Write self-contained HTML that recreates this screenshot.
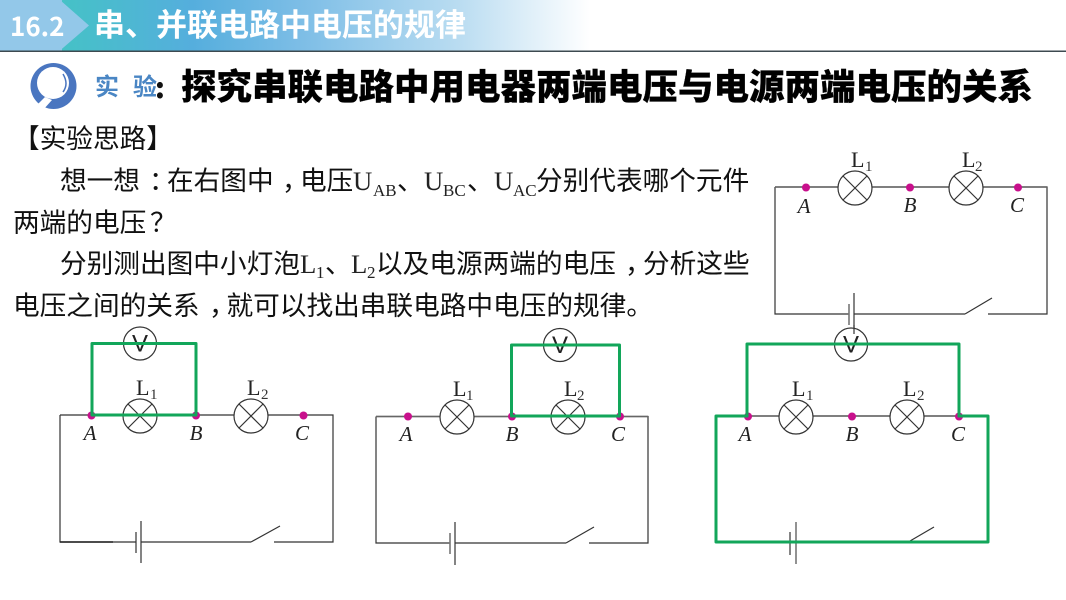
<!DOCTYPE html>
<html lang="zh"><head><meta charset="utf-8"><title>16.2 串、并联电路中电压的规律</title>
<style>
html,body{margin:0;padding:0;background:#fff;width:1066px;height:600px;overflow:hidden}
svg{display:block;filter:blur(.35px)}
.b{font-family:"Noto Sans CJK SC",sans-serif;font-size:26.67px;fill:#111}
.s{font-family:"Liberation Serif",serif;fill:#222}
.lab{font-family:"Liberation Serif",serif;font-style:italic;font-size:21px;fill:#222;text-anchor:middle}
.L{font-family:"Liberation Serif",serif;font-size:22px;fill:#222}
.Ls{font-family:"Liberation Serif",serif;font-size:15px;fill:#333}
.V{font-family:"Liberation Sans",sans-serif;font-size:24px;fill:#222;text-anchor:middle}
.w{stroke:#333;stroke-width:1.2;fill:none}
.g{stroke:#12a65a;stroke-width:3;fill:none;stroke-linejoin:round;stroke-linecap:round}
.c{stroke:#333;stroke-width:1.2;fill:#fff}
.d{fill:#c8108c}
</style></head><body>
<svg width="1066" height="600" viewBox="0 0 1066 600" xmlns="http://www.w3.org/2000/svg">
<defs>
<linearGradient id="h" x1="0" x2="1" y1="0" y2="0">
<stop offset="0" stop-color="#45c2c6"/><stop offset=".25" stop-color="#55aedd"/><stop offset=".45" stop-color="#7cbde6"/><stop offset=".75" stop-color="#b9dcf1"/><stop offset="1" stop-color="#ffffff"/>
</linearGradient>
<g id="x"><circle r="17" class="c"/><path d="M-12-12L12 12M-12 12L12-12" class="w"/></g>
<g id="v"><circle r="16.5" class="c"/><text y="8" class="V">V</text></g>
</defs>

<!-- header -->
<rect x="60" y="0" width="530" height="50.5" fill="url(#h)"/>
<rect x="0" y="0" width="62" height="50.5" fill="#8fc6e8"/>
<path d="M60 0L89 25.5L60 50.5H0V0Z" fill="#93c8e9"/>
<rect x="0" y="50.5" width="1066" height="1.5" fill="#3d4a50"/>
<text x="10" y="36" font-family="Noto Sans CJK SC,sans-serif" font-weight="700" font-size="26" fill="#fff">16.2</text>
<text x="94" y="36" font-family="Noto Sans CJK SC,sans-serif" font-weight="700" font-size="31" fill="#fff">串、并联电路中电压的规律</text>

<!-- heading -->
<circle cx="53.500" cy="86" r="23" fill="#4a76c0"/>
<circle cx="53" cy="83" r="16" fill="#fff"/>
<path d="M45 97L36 106L43 110L52 100Z" fill="#fff"/>
<path d="M63 74Q69 84 63 92" stroke="#4a76c0" stroke-width="1.5" fill="none"/>
<text x="95" y="95" font-family="Noto Sans CJK SC,sans-serif" font-weight="700" font-size="24" fill="#4a86c4">实</text>
<text x="133" y="95" font-family="Noto Sans CJK SC,sans-serif" font-weight="700" font-size="24" fill="#4a86c4">验</text>
<text x="155" y="98" font-family="Noto Sans CJK SC,sans-serif" font-weight="900" font-size="28" fill="#111">:</text>
<text x="181" y="99" font-family="Noto Sans CJK SC,sans-serif" font-weight="900" font-size="35.500" fill="#000" stroke="#000" stroke-width=".2">探究串联电路中用电器两端电压与电源两端电压的关系</text>

<!-- body text -->
<text x="13" y="148" class="b">【实验思路】</text>
<text y="190" class="b"><tspan x="60">想一想</tspan><tspan x="149">&#xFF1A;</tspan><tspan x="167">在右图中</tspan><tspan x="282">&#xFF0C;</tspan><tspan x="300">电压</tspan></text>
<text x="353" y="190" class="s" font-size="26.67">U</text><text x="373" y="196" class="s" font-size="17">AB</text>
<text x="397" y="190" class="b">、</text>
<text x="424" y="190" class="s" font-size="26.67">U</text><text x="443" y="196" class="s" font-size="17">BC</text>
<text x="467" y="190" class="b">、</text>
<text x="494" y="190" class="s" font-size="26.67">U</text><text x="513" y="196" class="s" font-size="17">AC</text>
<text x="536" y="190" class="b">分别代表哪个元件</text>
<text y="232" class="b"><tspan x="13">两端的电压</tspan><tspan x="150">&#xFF1F;</tspan></text>
<text x="60" y="273" class="b">分别测出图中小灯泡</text>
<text x="300" y="273" class="s" font-size="26.67">L</text><text x="316" y="278" class="s" font-size="17">1</text>
<text x="325" y="273" class="b">、</text>
<text x="351" y="273" class="s" font-size="26.67">L</text><text x="367" y="278" class="s" font-size="17">2</text>
<text y="273" class="b"><tspan x="376">以及电源两端的电压</tspan><tspan x="625">&#xFF0C;</tspan><tspan x="643">分析这些</tspan></text>
<text y="315" class="b"><tspan x="13">电压之间的关系</tspan><tspan x="209">&#xFF0C;</tspan><tspan x="226.500">就可以找出串联电路中电压的规律。</tspan></text>

<!-- top-right circuit -->
<path d="M775 187H1047V314H988M965 314L992 298M965 314H854M849 314H775V187" class="w"/>
<path d="M775 187H1047" stroke="#666" stroke-width="1.6" fill="none"/>
<path d="M854 293V330" class="w"/><path d="M849 304V325" stroke="#777" stroke-width="1.6"/>
<use href="#x" x="855" y="188"/><use href="#x" x="966" y="188"/>
<circle cx="806" cy="187.500" r="4" class="d"/><circle cx="910" cy="187.500" r="4" class="d"/><circle cx="1018" cy="187.500" r="4" class="d"/>
<text x="804" y="213" class="lab">A</text><text x="910" y="212" class="lab">B</text><text x="1017" y="212" class="lab">C</text>
<text x="851" y="167" class="L">L</text><text x="865" y="171" class="Ls">1</text>
<text x="962" y="167" class="L">L</text><text x="975" y="171" class="Ls">2</text>

<!-- circuit 1 -->
<path d="M60 415H333V542H274M251 542L280 526M251 542H141M136 542H60V415" class="w"/>
<path d="M60 542H113" stroke="#222" stroke-width="1.6"/>
<path d="M141 521V563" class="w"/><path d="M136 532V553" class="w"/>
<use href="#x" x="140" y="416"/><use href="#x" x="251" y="416"/>
<circle cx="91.500" cy="415.500" r="4" class="d"/><circle cx="196" cy="415.500" r="4" class="d"/><circle cx="303.500" cy="415.500" r="4" class="d"/>
<use href="#v" x="140" y="343.500"/>
<path d="M92 415V343.500H196V415H92" class="g"/>
<text x="90" y="440" class="lab">A</text><text x="196" y="440" class="lab">B</text><text x="302" y="440" class="lab">C</text>
<text x="136" y="395" class="L">L</text><text x="150" y="399" class="Ls">1</text>
<text x="247" y="395" class="L">L</text><text x="261" y="399" class="Ls">2</text>

<!-- circuit 2 -->
<path d="M376 416.500H648V543H589M566 543L594 527M566 543H455M450 543H376V416.500" class="w"/>
<path d="M376 416.500H440M474 416.500H512M620 416.500H648" stroke="#666" stroke-width="1.6"/>
<path d="M455 522V565" class="w"/><path d="M450 533V554" stroke="#777" stroke-width="1.6"/>
<use href="#x" x="457" y="417"/><use href="#x" x="568" y="417"/>
<circle cx="408" cy="416.500" r="4" class="d"/><circle cx="512" cy="416.500" r="4" class="d"/><circle cx="620" cy="416.500" r="4" class="d"/>
<use href="#v" x="560" y="345"/>
<path d="M511.500 416V345H619.500V416H511.500" class="g"/>
<text x="406" y="441" class="lab">A</text><text x="512" y="441" class="lab">B</text><text x="618" y="441" class="lab">C</text>
<text x="453" y="396" class="L">L</text><text x="466" y="400" class="Ls">1</text>
<text x="564" y="396" class="L">L</text><text x="577" y="400" class="Ls">2</text>

<!-- circuit 3 -->
<path d="M748 416H959" class="w"/>
<path d="M910 541L934 527" class="w"/>
<path d="M796 522V564" stroke="#777" stroke-width="1.6"/><path d="M790 532V555" class="w"/>
<use href="#x" x="796" y="417"/><use href="#x" x="907" y="417"/>
<circle cx="748" cy="416.500" r="4" class="d"/><circle cx="852" cy="416.500" r="4" class="d"/><circle cx="959" cy="416.500" r="4" class="d"/>
<use href="#v" x="851" y="344.500"/>
<path d="M854 325V334" class="w"/>
<path d="M747 416V344H959V416" class="g"/>
<path d="M747 416H716V542H988V416H959" class="g"/>
<text x="745" y="441" class="lab">A</text><text x="852" y="441" class="lab">B</text><text x="958" y="441" class="lab">C</text>
<text x="792" y="396" class="L">L</text><text x="806" y="400" class="Ls">1</text>
<text x="903" y="396" class="L">L</text><text x="917" y="400" class="Ls">2</text>
</svg>
</body></html>
